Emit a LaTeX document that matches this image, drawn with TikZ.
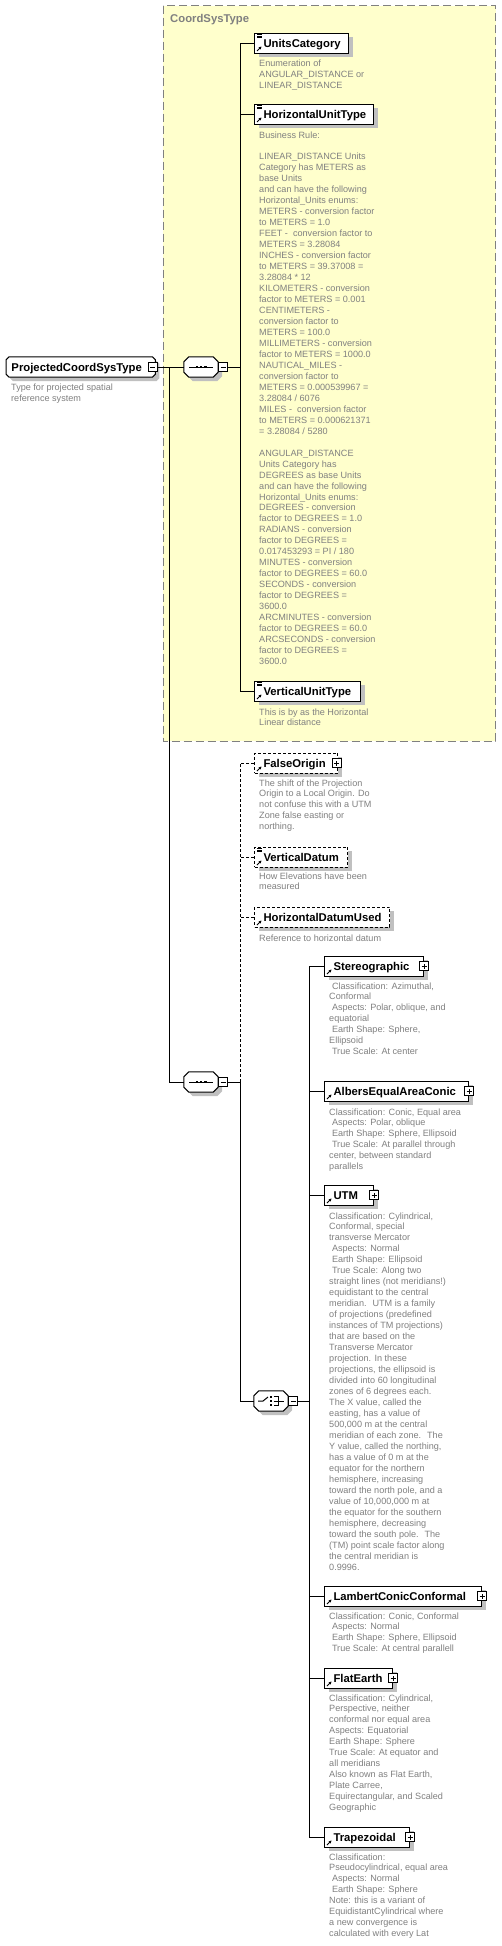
\documentclass[tikz,border=0pt]{standalone}
\usepackage{fontspec}
\setmainfont{Liberation Sans}
\usetikzlibrary{shadows,arrows.meta}
\pgfdeclarelayer{back}
\pgfdeclarelayer{mid}
\pgfsetlayers{back,mid,main}
\definecolor{ylw}{RGB}{255,255,204}
\definecolor{dgray}{RGB}{128,128,128}
\definecolor{shd}{RGB}{192,192,192}
\newcommand\indsp{\hspace*{2.8pt}}
\newcommand\refarrow{\draw[solid,line width=0.9pt,-{Stealth[length=3pt,width=3pt]}] ([shift={(2.5,-2)}]path picture bounding box.south west) -- ++(4.5,-4.5);}
\newcommand\annlines{\foreach \d in {1.5,3,4.5}{\draw[solid,line width=0.6pt] ([shift={(2.5,\d)}]path picture bounding box.north west) -- ++(5,0);}}
% chamfered outline with shadow around a named node
\newcommand\chamfbox[2]{%
  \fill[shd] ([shift={(4+#2,4)}]#1.north west) -- ([shift={(4-#2,4)}]#1.north east) -- ([shift={(4,4+#2)}]#1.north east) -- ([shift={(4,4-#2)}]#1.south east) -- ([shift={(4-#2,4)}]#1.south east) -- ([shift={(4+#2,4)}]#1.south west) -- ([shift={(4,4-#2)}]#1.south west) -- ([shift={(4,4+#2)}]#1.north west) -- cycle;
  \draw[black, line width=1pt, fill=white] ([shift={(#2,0)}]#1.north west) -- ([shift={(-#2,0)}]#1.north east) -- ([shift={(0,#2)}]#1.north east) -- ([shift={(0,-#2)}]#1.south east) -- ([shift={(-#2,0)}]#1.south east) -- ([shift={(#2,0)}]#1.south west) -- ([shift={(0,-#2)}]#1.south west) -- ([shift={(0,#2)}]#1.north west) -- cycle;}
\newcommand\seqicon[1]{%
  \draw[black, line width=1pt] ([xshift=-12pt]#1.center) -- ([xshift=12pt]#1.center);
  \foreach \dx in {-4.2,0,4.2}{\fill[black] ([shift={(\dx-1.3,-1.3)}]#1.center) rectangle ++(2.6,2.6);}}
\newcommand\choiceicon[1]{%
  \draw[black, line width=1pt] ([shift={(-13,0)}]#1.center) -- ([shift={(-8,0)}]#1.center) -- ([shift={(-3,-4)}]#1.center);
  \foreach \dy in {-4.2,0,4.2}{\fill[black] ([shift={(-1.2,\dy-1.2)}]#1.center) rectangle ++(2.4,2.4);}
  \draw[black, line width=1pt] ([shift={(2.5,-4.2)}]#1.center) -- ([shift={(7,-4.2)}]#1.center) -- ([shift={(7,4.2)}]#1.center) -- ([shift={(2.5,4.2)}]#1.center);
  \draw[black, line width=1pt] ([shift={(2.5,0)}]#1.center) -- ([shift={(13,0)}]#1.center);}
\tikzset{
  shadowed/.style={drop shadow={shadow xshift=4pt, shadow yshift=-4pt, fill=shd, opacity=1}},
  elem/.style={shadowed, draw, fill=white, line width=1pt, minimum height=20pt,
    inner xsep=0pt, inner ysep=0pt, text height=8.1pt, text depth=0pt,
    font=\fontsize{11.3}{13}\selectfont\bfseries, align=left, anchor=west},
  elemref/.style={elem, path picture={\refarrow}},
  elemrefann/.style={elem, path picture={\refarrow\annlines}},
  optelem/.style={dash pattern=on 3pt off 2pt},
  optline/.style={dash pattern=on 3pt off 2pt},
  pmbox/.style={draw, fill=white, solid, line width=1pt, minimum size=9pt, inner sep=0pt},
  minusb/.style={pmbox, path picture={\draw[line width=1pt] ([xshift=2pt]path picture bounding box.west) -- ([xshift=-2pt]path picture bounding box.east);}},
  plusb/.style={pmbox, path picture={\draw[line width=1pt] ([xshift=2pt]path picture bounding box.west) -- ([xshift=-2pt]path picture bounding box.east); \draw[line width=1pt] ([yshift=2pt]path picture bounding box.south) -- ([yshift=-2pt]path picture bounding box.north);}},
  compst/.style={minimum width=34pt, minimum height=20pt, inner sep=0pt},
  rootst/.style={minimum width=149pt, minimum height=20pt, inner sep=0pt, text height=8.1pt, text depth=0pt, font=\fontsize{11.3}{13}\selectfont\bfseries, anchor=west},
  desc/.style={anchor=north west, inner sep=0pt, align=left, text=dgray, font=\fontsize{9.1}{10.97}\selectfont, execute at begin node={\rule{0pt}{8pt}}},
}
\begin{document}
\begin{tikzpicture}[x=1pt,y=-1pt,line width=1pt]
\useasboundingbox (0,0) rectangle (501,1946);
\begin{pgfonlayer}{back}
\fill[white] (0,0) rectangle (501,1946);
\draw[dgray, line width=1pt, fill=ylw, dash pattern=on 8pt off 4pt] (163,5.5) rectangle (495.5,741);
\end{pgfonlayer}
\node[anchor=base west, inner sep=0pt, text=dgray, font=\fontsize{11.3}{13}\selectfont\bfseries] (grplabel) at (170,23) {CoordSysType};

% root
\node[rootst] (root) at (6,367) {ProjectedCoordSysType\hspace*{8pt}};
\node[minusb] (rootpm) at ([xshift=-2.5pt]root.east) {};
\node[desc] (rootd) at (11,383.3) {Type for projected spatial\\reference system};

% compositors
\node[compst] (seqa) at (201,367) {};
\node[minusb, anchor=west] (seqapm) at (seqa.east) {};
\node[compst] (seqb) at (201,1082) {};
\node[minusb, anchor=west] (seqbpm) at (seqb.east) {};
\node[compst] (ch) at (271,1401) {};
\node[minusb, anchor=west] (chpm) at (ch.east) {};
\begin{pgfonlayer}{mid}
\chamfbox{root}{3}
\chamfbox{seqa}{5}
\chamfbox{seqb}{5}
\chamfbox{ch}{5}
\end{pgfonlayer}
\seqicon{seqa}
\seqicon{seqb}
\choiceicon{ch}

\node[elemrefann, text width=94pt] (uc) at (254,43) {\hspace*{9pt}UnitsCategory};
\node[desc] (ucd) at (259,59.5) {Enumeration of\\ANGULAR\_DISTANCE or\\LINEAR\_DISTANCE};

\node[elemrefann, text width=119pt] (hut) at (254,114) {\hspace*{9pt}HorizontalUnitType};
\node[desc] (hutd) at (259,131.2) {Business Rule:\\[10.97pt]
LINEAR\_DISTANCE Units\\Category has METERS as\\base Units\\and can have the following\\Horizontal\_Units enums:\\
METERS - conversion factor\\to METERS = 1.0\\FEET -~ conversion factor to\\METERS = 3.28084\\
INCHES - conversion factor\\to METERS = 39.37008 =\\3.28084 * 12\\KILOMETERS - conversion\\factor to METERS = 0.001\\
CENTIMETERS -\\conversion factor to\\METERS = 100.0\\MILLIMETERS - conversion\\factor to METERS = 1000.0\\
NAUTICAL\_MILES -\\conversion factor to\\METERS = 0.000539967 =\\3.28084 / 6076\\MILES -~ conversion factor\\
to METERS = 0.000621371\\= 3.28084 / 5280\\[10.97pt]
ANGULAR\_DISTANCE\\Units Category has\\DEGREES as base Units\\and can have the following\\Horizontal\_Units enums:\\
DEGREES - conversion\\factor to DEGREES = 1.0\\RADIANS - conversion\\factor to DEGREES =\\0.017453293 = PI / 180\\
MINUTES - conversion\\factor to DEGREES = 60.0\\SECONDS - conversion\\factor to DEGREES =\\3600.0\\
ARCMINUTES - conversion\\factor to DEGREES = 60.0\\ARCSECONDS - conversion\\factor to DEGREES =\\3600.0};

\node[elemrefann, text width=106pt] (vut) at (254,691) {\hspace*{9pt}VerticalUnitType};
\node[desc] (vutd) at (259,708.2) {This is by as the Horizontal\\Linear distance};

\node[elemref, optelem, text width=83pt] (fo) at (254,763) {\hspace*{9pt}FalseOrigin};
\node[plusb] (fopm) at ([xshift=-1.5pt]fo.east) {};
\node[desc] (fod) at (259,779.2) {The shift of the Projection\\Origin to a Local Origin. Do\\not confuse this with a UTM\\Zone false easting or\\northing.};

\node[elemrefann, optelem, text width=93pt] (vd) at (254,857) {\hspace*{9pt}VerticalDatum};
\node[desc] (vdd) at (259,872.2) {How Elevations have been\\measured};

\node[elemref, optelem, text width=135pt] (hdu) at (254,917) {\hspace*{9pt}HorizontalDatumUsed};
\node[desc] (hdud) at (259,933.2) {Reference to horizontal datum};

\node[elemref, text width=99pt] (st) at (324,966) {\hspace*{9pt}Stereographic};
\node[plusb] (stpm) at (st.east) {};
\node[desc] (std) at (329,982.2) {\indsp Classification: Azimuthal,\\Conformal\\\indsp Aspects: Polar, oblique, and\\equatorial\\\indsp Earth Shape: Sphere,\\Ellipsoid\\\indsp True Scale: At center};

\node[elemref, text width=144pt] (al) at (324,1091) {\hspace*{9pt}AlbersEqualAreaConic};
\node[plusb] (alpm) at (al.east) {};
\node[desc] (ald) at (329,1108.2) {Classification: Conic, Equal area\\\indsp Aspects: Polar, oblique\\\indsp Earth Shape: Sphere, Ellipsoid\\\indsp True Scale: At parallel through\\center, between standard\\parallels};

\node[elemref, text width=49pt] (utm) at (324,1195) {\hspace*{9pt}UTM};
\node[plusb] (utmpm) at (utm.east) {};
\node[desc] (utmd) at (329,1212.2) {Classification: Cylindrical,\\Conformal, special\\transverse Mercator\\\indsp Aspects: Normal\\\indsp Earth Shape: Ellipsoid\\\indsp True Scale: Along two\\
straight lines (not meridians!)\\equidistant to the central\\meridian.~ UTM is a family\\of projections (predefined\\instances of TM projections)\\
that are based on the\\Transverse Mercator\\projection. In these\\projections, the ellipsoid is\\divided into 60 longitudinal\\
zones of 6 degrees each.\\The X value, called the\\easting, has a value of\\500,000 m at the central\\meridian of each zone.~ The\\
Y value, called the northing,\\has a value of 0 m at the\\equator for the northern\\hemisphere, increasing\\toward the north pole, and a\\
value of 10,000,000 m at\\the equator for the southern\\hemisphere, decreasing\\toward the south pole.~ The\\(TM) point scale factor along\\
the central meridian is\\0.9996.};

\node[elemref, text width=157pt] (lc) at (324,1596) {\hspace*{9pt}LambertConicConformal};
\node[plusb] (lcpm) at (lc.east) {};
\node[desc] (lcd) at (329,1612.2) {Classification: Conic, Conformal\\\indsp Aspects: Normal\\\indsp Earth Shape: Sphere, Ellipsoid\\\indsp True Scale: At central parallell};

\node[elemref, text width=68pt] (fe) at (324,1678) {\hspace*{9pt}FlatEarth};
\node[plusb] (fepm) at (fe.east) {};
\node[desc] (fed) at (329,1694.2) {Classification: Cylindrical,\\Perspective, neither\\conformal nor equal area\\Aspects: Equatorial\\Earth Shape: Sphere\\True Scale: At equator and\\all meridians\\Also known as Flat Earth,\\Plate Carree,\\Equirectangular, and Scaled\\Geographic};

\node[elemref, text width=85pt] (tr) at (324,1837) {\hspace*{9pt}Trapezoidal};
\node[plusb] (trpm) at (tr.east) {};
\node[desc] (trd) at (329,1853.2) {Classification:\\Pseudocylindrical, equal area\\\indsp Aspects: Normal\\\indsp Earth Shape: Sphere\\Note: this is a variant of\\EquidistantCylindrical where\\a new convergence is\\calculated with every Lat};

% connectors
\coordinate (j0) at (169,367);
\coordinate (ja) at (240,367);
\coordinate (jb) at (240,1082);
\coordinate (jc) at (309,1401);
\draw (rootpm.east) -- (seqa.west);
\draw (j0) |- (seqb.west);
\draw (seqapm.east) -- (ja);
\draw (uc.west) -| (ja);
\draw (hut.west) -| (ja);
\draw (vut.west) -| (ja);
\draw (seqbpm.east) -- (jb);
\draw[optline] (fo.west) -| (jb);
\draw[optline] (vd.west) -- (vd.west -| jb);
\draw[optline] (hdu.west) -- (hdu.west -| jb);
\draw (jb) |- (ch.west);
\draw (chpm.east) -- (jc);
\draw (st.west) -| (jc);
\draw (al.west) -| (jc);
\draw (utm.west) -| (jc);
\draw (lc.west) -| (jc);
\draw (fe.west) -| (jc);
\draw (tr.west) -| (jc);
\end{tikzpicture}
\end{document}
